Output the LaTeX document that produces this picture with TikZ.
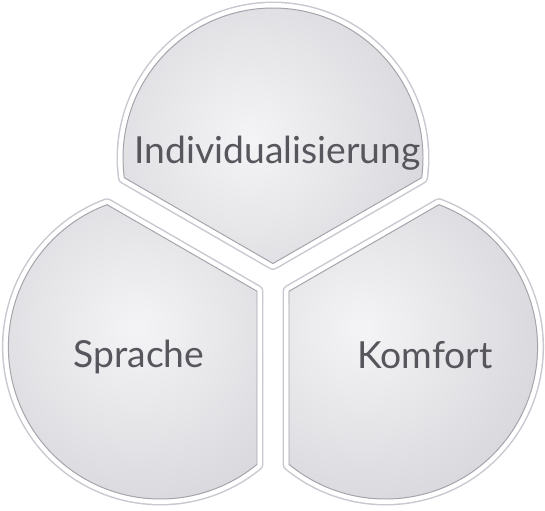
\documentclass[tikz,border=0pt]{standalone}
\usepackage{fontspec}
\setmainfont{Lato}
\usetikzlibrary{calc}

\definecolor{lobelight}{HTML}{F4F4F6}
\definecolor{lobemid}{HTML}{D6D6DA}
\definecolor{lobedark}{HTML}{B0B0B8}
\definecolor{rimouter}{HTML}{C8C8D0}
\definecolor{riminner}{HTML}{A4A4AC}
\definecolor{labelgray}{HTML}{56565C}

\newcommand{\gapw}{1.6}
% #1 rotation, #2 distance of centre, #3 radius
\newcommand{\drawlobe}[3]{%
  \pgfmathsetmacro\lobevy{1.1547*\gapw}
  \pgfmathsetmacro\lobewu{0.5*(\lobevy-#2)}
  \pgfmathsetmacro\lobet{-\lobewu+sqrt(\lobewu*\lobewu-(\lobevy-#2)*(\lobevy-#2)+#3*#3)}
  \pgfmathsetmacro\lobeang{atan2(\lobevy+0.5*\lobet-#2,0.866*\lobet)}
  \path (90+#1:#2) coordinate (c);
  \path[draw=rimouter, line width=9.2pt, line join=round,
    postaction={draw=white, line width=7.1pt, line join=round},
    postaction={fill=lobemid, path picture={
      \fill[inner color=lobelight, outer color=lobedark] ($(c)+(140:3)$) circle (46);}},
    postaction={draw=riminner, line width=0.7pt}]
    ($(c)+(#1+\lobeang:#3)$) arc[start angle=#1+\lobeang, end angle=#1+180-\lobeang, radius=#3]
    -- (90+#1:\lobevy) -- cycle;
}

\begin{document}
\begin{tikzpicture}[x=0.25cm, y=0.25cm,
  lobelabel/.style={anchor=base, text=labelgray, font=\fontsize{26.5}{30}\selectfont}]
\useasboundingbox (-27.3,28.2) rectangle (27.2,-22.8);
\drawlobe{0}{12.4}{15}
\drawlobe{120}{13}{15.2}
\drawlobe{-120}{13}{15.2}
\node[lobelabel] (indiv) at (0.45,11.9) {Individualisierung};
\node[lobelabel] (sprache) at (-13.4,-8.5) {Sprache};
\node[lobelabel] (komfort) at (15.2,-8.6) {Komfort};
\end{tikzpicture}
\end{document}
